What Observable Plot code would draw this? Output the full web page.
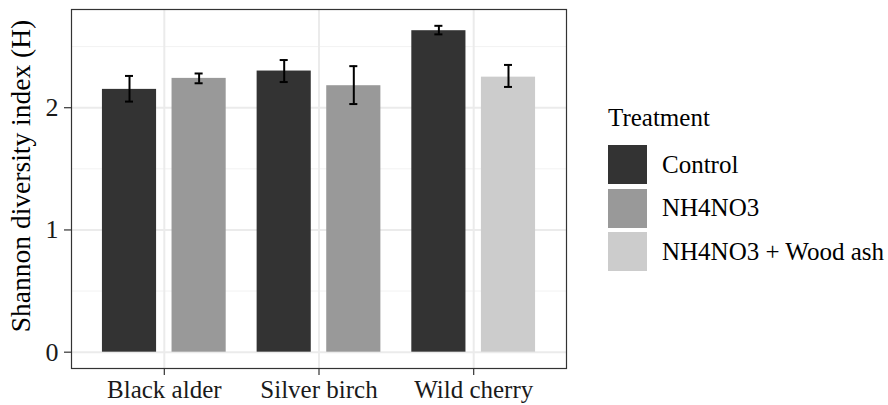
<!DOCTYPE html>
<html>
<head>
<meta charset="utf-8">
<script src="https://cdn.jsdelivr.net/npm/d3@7"></script>
<script src="https://cdn.jsdelivr.net/npm/@observablehq/plot@0.6"></script>
<style>
  html, body { margin: 0; padding: 0; background: #fff; }
  #wrap { position: relative; width: 888px; height: 405px; font-family: "Liberation Serif", "Times New Roman", Times, "DejaVu Serif", serif; }
  #wrap svg { overflow: visible; }
  #legend { position: absolute; left: 608px; top: 104px; color: #000; }
  .ltitle { font-size: 25px; line-height: 28px; height: 28px; margin-bottom: 11px; }
  .lrow { display: flex; align-items: center; height: 43.5px; }
  .lkey { width: 39px; height: 39px; margin-right: 15px; }
  .ltext { font-size: 25px; }
</style>
</head>
<body>
<div id="wrap"></div>
<script>
const species = ["Black alder", "Silver birch", "Wild cherry"];
const treatments = ["Control", "NH4NO3", "NH4NO3 + Wood ash"];
const treatmentColors = ["#333333", "#999999", "#cccccc"];
const barSpecies = ["Black alder", "Black alder", "Silver birch", "Silver birch", "Wild cherry", "Wild cherry"];
const barTreatment = ["Control", "NH4NO3", "Control", "NH4NO3", "Control", "NH4NO3 + Wood ash"];
const meanH  = [2.15, 2.24, 2.30, 2.18, 2.63, 2.25];
const lowerH = [2.05, 2.20, 2.21, 2.03, 2.60, 2.17];
const upperH = [2.26, 2.28, 2.39, 2.34, 2.67, 2.35];
const yTicks = [0, 1, 2];
const yMinor = [0.5, 1.5, 2.5];

const FONT = '"Liberation Serif", "Times New Roman", Times, "DejaVu Serif", serif';
const dodge = 0.45, barW = 0.35, capW = 0.026;
const rows = barSpecies.map((s, i) => {
  const slot = barSpecies.slice(0, i).filter(t => t === s).length;
  const c = species.indexOf(s) + (slot - 0.5) * dodge;
  return { species: s, treatment: barTreatment[i], mean: meanH[i], lo: lowerH[i], hi: upperH[i], c };
});
const catIdx = species.map((s, i) => i);

const yMax = d3.max(upperH);
const pad = yMax * 0.05;

const chart = Plot.plot({
  width: 888, height: 405,
  marginLeft: 71, marginRight: 322, marginTop: 9, marginBottom: 37,
  style: { fontFamily: FONT, color: "#1a1a1a", background: "#fff", overflow: "visible" },
  x: { type: "linear", domain: [-0.6, species.length - 1 + 0.6], axis: null },
  y: { domain: [-pad, yMax + pad], axis: null },
  color: { domain: treatments, range: treatmentColors },
  marks: [
    Plot.ruleY(yMinor, { stroke: "#f2f2f2", strokeWidth: 1 }),
    Plot.ruleY(yTicks, { stroke: "#ebebeb", strokeWidth: 2 }),
    Plot.ruleX(catIdx, { stroke: "#ebebeb", strokeWidth: 2 }),
    Plot.rect(rows, { x1: d => d.c - barW / 2, x2: d => d.c + barW / 2, y1: 0, y2: "mean", fill: "treatment" }),
    Plot.ruleX(rows, { x: "c", y1: "lo", y2: "hi", stroke: "#000", strokeWidth: 2 }),
    Plot.ruleY(rows, { y: "lo", x1: d => d.c - capW, x2: d => d.c + capW, stroke: "#000", strokeWidth: 2 }),
    Plot.ruleY(rows, { y: "hi", x1: d => d.c - capW, x2: d => d.c + capW, stroke: "#000", strokeWidth: 2 }),
    Plot.frame({ stroke: "#333", strokeWidth: 1.2 }),
    Plot.axisY(yTicks, { tickSize: 7, tickPadding: 6, fontSize: 26, label: null, tickFormat: d => String(d), stroke: "#333", strokeWidth: 1.2 }),
    Plot.axisX(catIdx, { tickSize: 7, tickPadding: 5, fontSize: 25, label: null, tickFormat: i => species[i], stroke: "#333", strokeWidth: 1.2 }),
    Plot.text(["Shannon diversity index (H)"], { frameAnchor: "left", rotate: -90, dx: -50, dy: -13, fontSize: 27.5, fill: "#000", textAnchor: "middle", lineAnchor: "middle" })
  ]
});

const wrap = document.getElementById("wrap");
wrap.appendChild(chart);

const legend = document.createElement("div");
legend.id = "legend";
const title = document.createElement("div");
title.className = "ltitle";
title.textContent = "Treatment";
legend.appendChild(title);
treatments.forEach((t, i) => {
  const row = document.createElement("div");
  row.className = "lrow";
  const key = document.createElement("div");
  key.className = "lkey";
  key.style.background = treatmentColors[i];
  const txt = document.createElement("div");
  txt.className = "ltext";
  txt.textContent = t;
  row.appendChild(key);
  row.appendChild(txt);
  legend.appendChild(row);
});
wrap.appendChild(legend);
</script>
</body>
</html>
